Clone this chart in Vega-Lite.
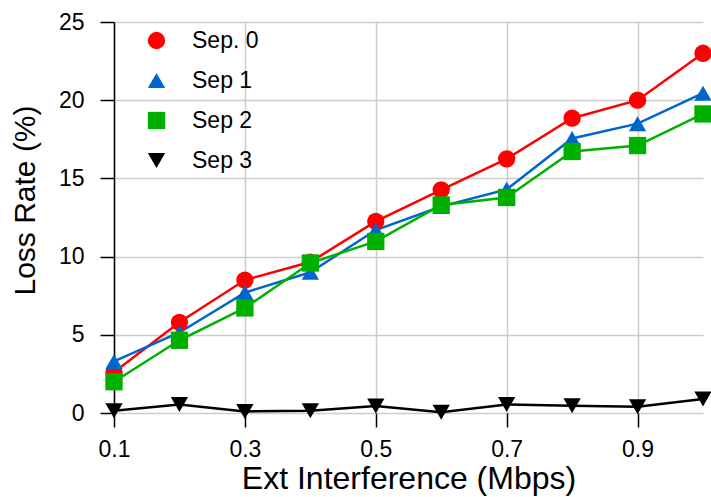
{
  "$schema": "https://vega.github.io/schema/vega-lite/v6.json",
  "width": 589,
  "height": 391,
  "autosize": "none",
  "padding": {"left": 114, "top": 22, "right": 8, "bottom": 84},
  "background": "white",
  "config": {
    "font": "Liberation Sans",
    "view": {"stroke": null}
  },
  "data": {
    "values": [
      {"x": 0.1, "y": 2.6, "s": "Sep. 0"},
      {"x": 0.2, "y": 5.8, "s": "Sep. 0"},
      {"x": 0.3, "y": 8.5, "s": "Sep. 0"},
      {"x": 0.4, "y": 9.65, "s": "Sep. 0"},
      {"x": 0.5, "y": 12.25, "s": "Sep. 0"},
      {"x": 0.6, "y": 14.27, "s": "Sep. 0"},
      {"x": 0.7, "y": 16.25, "s": "Sep. 0"},
      {"x": 0.8, "y": 18.85, "s": "Sep. 0"},
      {"x": 0.9, "y": 20.0, "s": "Sep. 0"},
      {"x": 1.0, "y": 23.0, "s": "Sep. 0"},
      {"x": 0.1, "y": 3.3, "s": "Sep 1"},
      {"x": 0.2, "y": 5.15, "s": "Sep 1"},
      {"x": 0.3, "y": 7.7, "s": "Sep 1"},
      {"x": 0.4, "y": 9.0, "s": "Sep 1"},
      {"x": 0.5, "y": 11.7, "s": "Sep 1"},
      {"x": 0.6, "y": 13.2, "s": "Sep 1"},
      {"x": 0.7, "y": 14.3, "s": "Sep 1"},
      {"x": 0.8, "y": 17.55, "s": "Sep 1"},
      {"x": 0.9, "y": 18.5, "s": "Sep 1"},
      {"x": 1.0, "y": 20.45, "s": "Sep 1"},
      {"x": 0.1, "y": 2.0, "s": "Sep 2"},
      {"x": 0.2, "y": 4.65, "s": "Sep 2"},
      {"x": 0.3, "y": 6.72, "s": "Sep 2"},
      {"x": 0.4, "y": 9.59, "s": "Sep 2"},
      {"x": 0.5, "y": 10.97, "s": "Sep 2"},
      {"x": 0.6, "y": 13.3, "s": "Sep 2"},
      {"x": 0.7, "y": 13.78, "s": "Sep 2"},
      {"x": 0.8, "y": 16.72, "s": "Sep 2"},
      {"x": 0.9, "y": 17.1, "s": "Sep 2"},
      {"x": 1.0, "y": 19.12, "s": "Sep 2"},
      {"x": 0.1, "y": 0.15, "s": "Sep 3"},
      {"x": 0.2, "y": 0.55, "s": "Sep 3"},
      {"x": 0.3, "y": 0.1, "s": "Sep 3"},
      {"x": 0.4, "y": 0.15, "s": "Sep 3"},
      {"x": 0.5, "y": 0.45, "s": "Sep 3"},
      {"x": 0.6, "y": 0.05, "s": "Sep 3"},
      {"x": 0.7, "y": 0.55, "s": "Sep 3"},
      {"x": 0.8, "y": 0.47, "s": "Sep 3"},
      {"x": 0.9, "y": 0.4, "s": "Sep 3"},
      {"x": 1.0, "y": 0.9, "s": "Sep 3"}
    ]
  },
  "encoding": {
    "x": {
      "field": "x", "type": "quantitative",
      "scale": {"domain": [0.1, 1.0], "nice": false, "zero": false},
      "axis": {
        "title": "Ext Interference (Mbps)",
        "values": [0.1, 0.3, 0.5, 0.7, 0.9],
        "format": ".1f",
        "domain": false,
        "labelFlush": false,
        "labelOverlap": false,
        "tickColor": "black", "tickSize": 14, "tickWidth": 1.5,
        "labelFontSize": 23, "labelColor": "black", "labelPadding": 11,
        "titleFontSize": 32, "titleFontWeight": "normal", "titleColor": "black", "titlePadding": 2,
        "gridColor": "#cccccc", "gridWidth": 1.5
      }
    },
    "y": {
      "field": "y", "type": "quantitative",
      "scale": {"domain": [0, 25], "nice": false},
      "axis": {
        "title": "Loss Rate (%)",
        "values": [0, 5, 10, 15, 20, 25],
        "labelFlush": false,
        "labelOverlap": false,
        "domainColor": "black", "domainWidth": 1.5,
        "tickColor": "black", "tickSize": 14, "tickWidth": 1.5,
        "labelFontSize": 23, "labelColor": "black", "labelPadding": 16,
        "titleFontSize": 30, "titleFontWeight": "normal", "titleColor": "black", "titlePadding": 18,
        "titleY": 178,
        "gridColor": "#cccccc", "gridWidth": 1.5
      }
    },
    "color": {
      "field": "s", "type": "nominal",
      "scale": {"domain": ["Sep. 0", "Sep 1", "Sep 2", "Sep 3"], "range": ["#ff0000", "#0066cc", "#00b000", "#000000"]},
      "legend": {
        "title": null, "orient": "none", "legendX": 31, "legendY": 7,
        "labelFontSize": 23, "labelColor": "black", "symbolSize": 300,
        "rowPadding": 16, "labelOffset": 24, "symbolStrokeWidth": 0
      }
    },
    "shape": {
      "field": "s", "type": "nominal",
      "scale": {"domain": ["Sep. 0", "Sep 1", "Sep 2", "Sep 3"], "range": ["circle", "triangle-up", "square", "triangle-down"]},
      "legend": null
    }
  },
  "layer": [
    {"mark": {"type": "line", "strokeWidth": 2.5}},
    {
      "mark": {"type": "point", "filled": true, "opacity": 1},
      "encoding": {
        "size": {
          "field": "s", "type": "nominal",
          "scale": {"domain": ["Sep. 0", "Sep 1", "Sep 2", "Sep 3"], "range": [300, 300, 200, 300]},
          "legend": null
        }
      }
    }
  ]
}
